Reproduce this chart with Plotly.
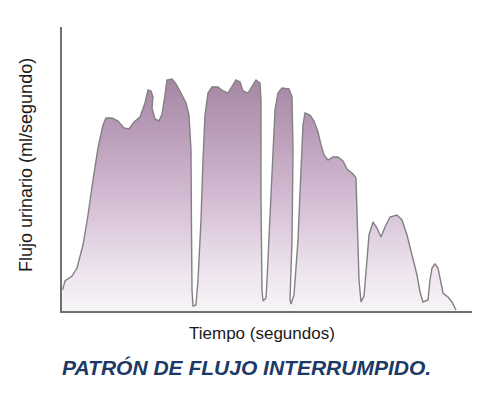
import plotly.graph_objects as go

# tiempo (s) y flujo (ml/s)
tiempo = [
    0.05, 0.3, 1.0, 1.5, 2.1, 2.6, 3.1, 3.6, 4.1, 4.4, 5.0, 5.6, 6.2, 6.7, 7.2, 7.8,
    8.3, 8.6, 8.9, 9.1, 9.0, 9.3, 9.7, 10.0, 10.3, 10.5, 11.0, 11.4, 11.9, 12.4, 12.7,
    12.9, 12.95, 13.0, 13.1, 13.4, 13.6, 13.9, 14.1, 14.3, 14.6, 15.0, 15.6, 16.1,
    16.6, 17.0, 17.4, 17.8, 18.1, 18.6, 19.0, 19.4, 19.8, 19.9, 19.9, 20.0, 20.1,
    20.4, 20.5, 20.8, 21.1, 21.3, 21.6, 22.0, 22.7, 23.0, 23.1, 23.0, 22.8, 22.9,
    23.2, 23.6, 23.9, 24.1, 24.3, 24.8, 25.2, 25.6, 25.9, 26.2, 26.6, 27.1, 27.6,
    28.1, 28.5, 29.1, 29.4, 29.5, 29.7, 29.9, 30.2, 30.5, 30.7, 31.1, 31.5, 31.9,
    32.3, 32.8, 33.5, 34.0, 34.5, 35.0, 35.5, 35.8, 36.1, 36.6, 36.8, 37.0, 37.3,
    37.6, 37.9, 38.1, 38.6, 39.0, 39.4,
]
flujo = [
    2.1, 3.0, 3.5, 4.3, 6.6, 9.6, 13.1, 16.3, 18.6, 19.3, 19.3, 19.0, 18.3, 18.2, 18.9, 19.4,
    20.8, 22.1, 22.0, 21.4, 20.3, 19.2, 19.0, 19.7, 21.6, 23.1, 23.2, 22.7, 21.8, 20.8, 19.6,
    16.1, 8.1, 2.1, 0.5, 0.6, 3.1, 9.1, 15.1, 19.6, 21.8, 22.4, 22.4, 22.0,
    21.8, 22.5, 23.1, 22.9, 22.0, 21.8, 22.5, 23.1, 22.8, 21.1, 11.1, 2.1, 1.0,
    1.3, 3.1, 9.1, 15.1, 20.1, 21.8, 22.3, 22.2, 21.4, 16.1, 7.1, 1.1, 0.7,
    1.6, 7.1, 14.1, 18.6, 19.8, 19.6, 19.0, 17.9, 16.6, 15.6, 15.1, 15.4, 15.4,
    15.0, 14.2, 13.7, 13.3, 9.1, 3.1, 0.9, 1.5, 5.1, 7.6, 8.9, 8.3, 7.4,
    8.4, 9.4, 9.6, 9.1, 7.6, 5.6, 3.6, 1.9, 0.9, 1.1, 3.1, 4.3, 4.7,
    4.3, 2.6, 1.8, 1.4, 0.9, 0.1,
]

titulo_y = "Flujo urinario (ml/segundo)"
titulo_x = "Tiempo (segundos)"
leyenda = "PATRÓN DE FLUJO INTERRUMPIDO."

fig = go.Figure()
fig.add_trace(go.Scatter(
    x=tiempo,
    y=flujo,
    mode="lines",
    line=dict(color="#838083", width=1.4),
    fill="tozeroy",
    fillgradient=dict(
        type="vertical",
        start=0,
        stop=23.3,
        colorscale=[
            [0.0, "#f6f4f6"],
            [0.15, "#efe6ef"],
            [0.45, "#d6c0d6"],
            [0.75, "#bb9fba"],
            [1.0, "#a587a4"],
        ],
    ),
    hoverinfo="skip",
    showlegend=False,
))

fig.update_xaxes(range=[0, 41], showline=True, linecolor="#707070", linewidth=2,
                 showgrid=False, zeroline=False, showticklabels=False, ticks="")
fig.update_yaxes(range=[0, 28.4], showline=True, linecolor="#707070", linewidth=2,
                 showgrid=False, zeroline=False, showticklabels=False, ticks="")

fuente = "Liberation Sans, Arial, sans-serif"
fig.add_annotation(text=titulo_y, xref="paper", yref="paper", x=-0.088, y=0.514,
                   textangle=-90, showarrow=False, xanchor="center", yanchor="middle",
                   font=dict(family=fuente, size=18, color="#1a1a1a"))
fig.add_annotation(text=titulo_x, xref="paper", yref="paper", x=0.488, y=-0.0775,
                   showarrow=False, xanchor="center", yanchor="middle",
                   font=dict(family=fuente, size=17, color="#1a1a1a"))
fig.add_annotation(text="<b><i>" + leyenda + "</i></b>", xref="paper", yref="paper",
                   x=0.451, y=-0.2, showarrow=False, xanchor="center", yanchor="middle",
                   font=dict(family=fuente, size=21, color="#1d3966"))

# la página añade 8 px de margen, por eso el desplazamiento
fig.update_layout(
    width=482,
    height=403,
    margin=dict(l=54, r=18, t=19, b=100),
    paper_bgcolor="white",
    plot_bgcolor="white",
)

fig.write_html("out.html")
